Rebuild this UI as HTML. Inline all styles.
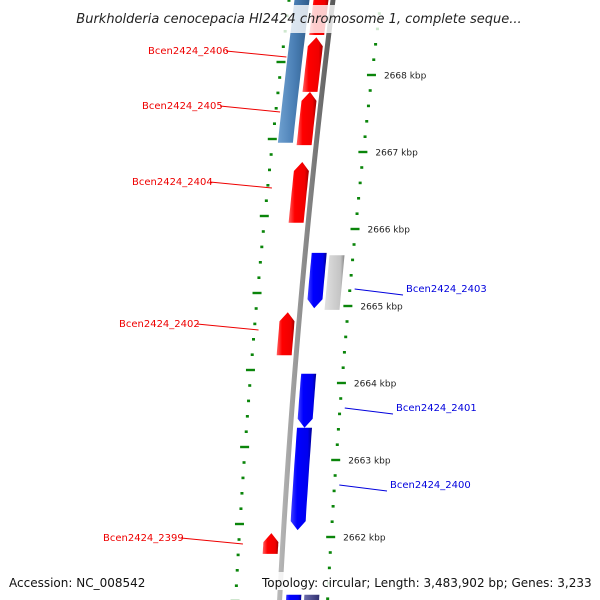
<!DOCTYPE html>
<html><head><meta charset="utf-8"><style>
body{margin:0;background:#fff}
svg{display:block;font-family:"DejaVu Sans","Liberation Sans",sans-serif}
</style></head><body>
<svg id="c" width="600" height="600" viewBox="0 0 600 600">
<defs>
<linearGradient id="gred" x1="0" x2="1" y1="0" y2="0"><stop offset="0" stop-color="#ff6060"/><stop offset="0.3" stop-color="#ff0000"/><stop offset="0.8" stop-color="#f00000"/><stop offset="1" stop-color="#a00000"/></linearGradient>
<linearGradient id="gblue" x1="0" x2="1" y1="0" y2="0"><stop offset="0" stop-color="#4040ff"/><stop offset="0.3" stop-color="#0000ff"/><stop offset="0.8" stop-color="#0000ee"/><stop offset="1" stop-color="#000090"/></linearGradient>
<linearGradient id="ggray" x1="0" x2="1" y1="0" y2="0"><stop offset="0" stop-color="#e0e0e0"/><stop offset="0.8" stop-color="#c4c4c4"/><stop offset="1" stop-color="#888"/></linearGradient>
<linearGradient id="gsteel" x1="0" x2="1" y1="0" y2="0"><stop offset="0" stop-color="#6fa0d0"/><stop offset="0.5" stop-color="#4a7fb5"/><stop offset="1" stop-color="#2d5a88"/></linearGradient>
<linearGradient id="gpurp" x1="0" x2="1" y1="0" y2="0"><stop offset="0" stop-color="#7070b0"/><stop offset="1" stop-color="#303070"/></linearGradient>
<linearGradient id="gback" x1="0" x2="1" y1="0" y2="0"><stop offset="0" stop-color="#bbb"/><stop offset="0.5" stop-color="#888"/><stop offset="1" stop-color="#555"/></linearGradient>
</defs>
<g id="dots"></g><g id="genes"></g><g id="labels"></g>
</svg>
<script>
const tickKbp=[2668,2667,2666,2665,2664,2663,2662];
const tickLabels=["2668 kbp","2667 kbp","2666 kbp","2665 kbp","2664 kbp","2663 kbp","2662 kbp"];
const geneNames=["top-red","Bcen2424_2406","Bcen2424_2405","Bcen2424_2404","steel","Bcen2424_2403","gray","Bcen2424_2402","Bcen2424_2401","Bcen2424_2400","Bcen2424_2399","bottom-blue","bottom-purple"];
const geneStart=[2669.1,2668.49,2667.78,2666.87,2669.1,2665.69,2665.66,2664.92,2664.12,2663.42,2662.05,2661.25,2661.25];
const geneEnd=[2668.52,2667.78,2667.09,2666.08,2667.12,2664.97,2664.95,2664.36,2663.42,2662.09,2661.78,2660.9,2660.9];
const geneTrack=["red","red","red","red","steel","blue","gray","red","blue","blue","red","blue","purp"];
const geneDir=["up","up","up","up","none","down","none","up","down","down","up","none","none"];
const labelled=[1,2,3,7,10,5,8,9];

const NS="http://www.w3.org/2000/svg";
function yOf(k){return 75+(2668-k)*77;}
function bx(y){return 333-0.125*y+0.00006*y*y;}
const trackOff={red:-12,blue:14,gray:32,steel:-31,purp:32};
const fills={red:"url(#gred)",blue:"url(#gblue)",gray:"url(#ggray)",steel:"url(#gsteel)",purp:"url(#gpurp)"};
function mk(tag,attrs,parent){const e=document.createElementNS(NS,tag);for(const k in attrs)e.setAttribute(k,attrs[k]);parent.appendChild(e);return e;}
const dotsG=document.getElementById('dots'),genesG=document.getElementById('genes'),labelsG=document.getElementById('labels');

for(let i=0;i<=44;i++){
  const k=2669.2-i*0.2;const y=yOf(k);
  const major=Math.abs(k-Math.round(k))<0.01;
  [48,-44].forEach(o=>{
    const yy=o<0?y-13:y;
    const x=bx(yy)+o;
    const e=mk('rect',{x:major?x-5:x-1.5,y:yy-1.2,width:major?9:3,height:major?2.4:2.6,fill:"#0a850a"},dotsG);
    
    
  });
}
tickKbp.forEach((k,i)=>{
  const y=yOf(k);
  const t=mk('text',{x:bx(y)+60,y:y+3.5,'font-size':"9",fill:"#222"},labelsG);
  t.textContent=tickLabels[i];
  
  
});

let d="";for(let y=-5;y<=605;y+=5){d+=(y==-5?"M":"L")+(bx(y)-2.5)+","+y;}
for(let y=605;y>=-5;y-=5){d+="L"+(bx(y)+2.5)+","+y;}
const bb=mk('path',{d:d+"Z",fill:"url(#gback)"},genesG);



geneNames.forEach((n,i)=>{
  const y1=yOf(geneStart[i]),y2=yOf(geneEnd[i]);const o=trackOff[geneTrack[i]];const hw=7.5,ah=9;
  const dir=geneDir[i];
  const a=dir=="up"?y1+ah:y1,b=dir=="down"?y2-ah:y2;
  let p=[];
  if(dir=="up")p.push([bx(y1)+o,y1]);
  for(let s=0;s<=10;s++){const y=a+(b-a)*s/10;p.push([bx(y)+o-hw,y]);}
  if(dir=="down")p.push([bx(y2)+o,y2]);
  for(let s=10;s>=0;s--){const y=a+(b-a)*s/10;p.push([bx(y)+o+hw,y]);}
  const g=mk('polygon',{points:p.map(q=>q[0].toFixed(1)+","+q[1].toFixed(1)).join(" "),fill:fills[geneTrack[i]]},genesG);
  
  
});

const labelPos={1:[148,54],2:[142,109],3:[132,185],7:[119,327],10:[103,541],5:[406,292],8:[396,411],9:[390,488]};
labelled.forEach(i=>{
  const tx=labelPos[i][0],ty=labelPos[i][1];const red=geneTrack[i]=="red";const col=red?"#e00":"#00d";
  const t=mk('text',{x:tx,y:ty,'font-size':"10",fill:col},labelsG);
  t.textContent=geneNames[i];
  
  
  const lx1=red?tx+78:bx(ty)+53,ly1=ty-3;
  const lx2=red?bx(ty)-40:tx-3,ly2=ty+3;
  const l=mk('line',{x1:lx1,y1:ly1,x2:lx2,y2:ly2,stroke:col,'stroke-width':1},labelsG);
  
  
});

const band=mk('rect',{x:60,y:5,width:480,height:28,fill:"#fff",opacity:0.8},labelsG);


const title=mk('text',{x:299,y:23,'font-size':"13",'font-style':"italic",fill:"#222",'text-anchor':"middle"},labelsG);
title.textContent="Burkholderia cenocepacia HI2424 chromosome 1, complete seque...";



const fb=mk('rect',{x:258,y:572,width:338,height:18,fill:"#fff",opacity:0.85},labelsG);


const acc=mk('text',{x:9,y:587,'font-size':"12",fill:"#111"},labelsG);
acc.textContent="Accession: NC_008542";


const topo=mk('text',{x:262,y:587,'font-size':"12",fill:"#111"},labelsG);
topo.textContent="Topology: circular; Length: 3,483,902 bp; Genes: 3,233";


</script>
</body></html>
